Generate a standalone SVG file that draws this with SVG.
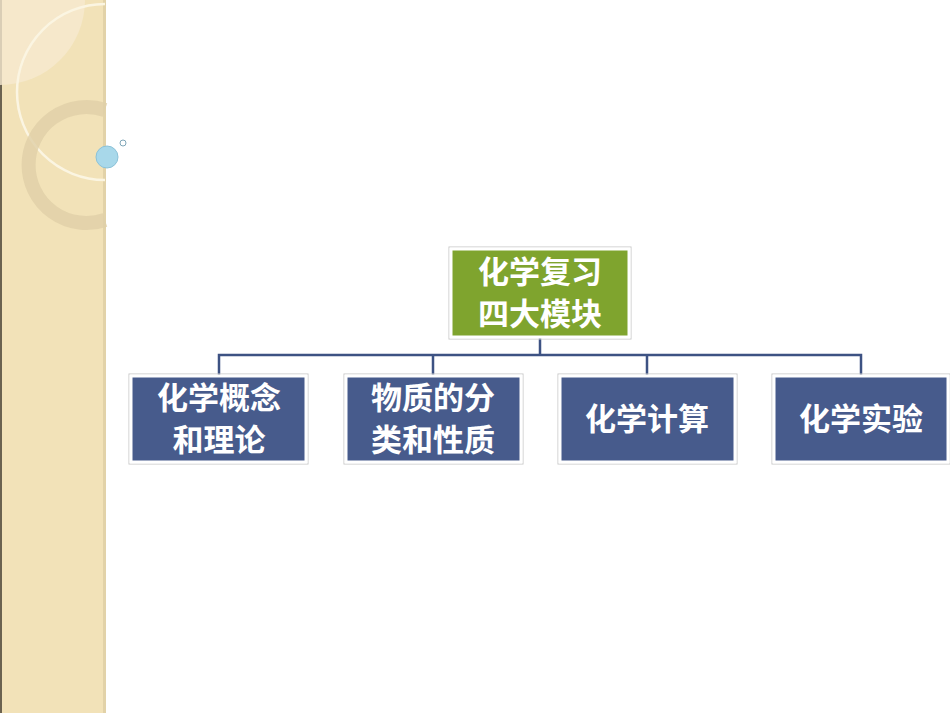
<svg xmlns="http://www.w3.org/2000/svg" width="950" height="713" viewBox="0 0 950 713">
<style>
.box{stroke:#fff;stroke-width:3}
.frame{fill:none;stroke:#c8c8c8;stroke-width:1}
.t{font-family:"Noto Sans CJK SC",sans-serif;font-weight:bold;font-size:31px;fill:#fff;text-anchor:middle}
.c{stroke:#3d5283;stroke-width:2.5;fill:none}
</style>
<rect width="950" height="713" fill="#fff"/>
<g id="sidebar">
<rect x="0" y="0" width="105" height="713" fill="#f2e2b8"/>
<rect x="0" y="0" width="2" height="713" fill="#6b6250"/>
<rect x="103" y="0" width="3" height="713" fill="#e2d2a8"/>
<path d="M0 85 A85 85 0 0 0 85 0 L0 0Z" fill="#f6ead0" opacity="0.8"/>
<path d="M105 4 A88 88 0 0 0 105 180" fill="none" stroke="#fbf5e2" stroke-width="2.5"/>
<path d="M105 110 A58 58 0 1 0 105 220" fill="none" stroke="#e0d0a8" stroke-width="14" opacity="0.8"/>
<circle cx="107" cy="157" r="11" fill="#a8d8ea" stroke="#8cc2d8"/>
<circle cx="123" cy="143" r="3" fill="none" stroke="#7fa6b8"/>
</g>
<g id="connectors">
<path class="c" d="M540 338 V355 M219 375 V355 H861 V375 M433 355 V375 M647 355 V375"/>
</g>
<g id="root"><rect class="frame" x="449" y="247" width="182" height="92"/><rect class="box" x="451" y="249" width="178" height="88" fill="#7fa42e"/>
<text class="t" x="540" y="283">化学复习</text><text class="t" x="540" y="325">四大模块</text></g>
<g id="n1"><rect class="frame" x="129" y="374" width="179" height="90"/><rect class="box" x="131" y="376" width="175" height="86" fill="#475b8c"/>
<text class="t" x="219" y="409">化学概念</text><text class="t" x="219" y="451">和理论</text></g>
<g id="n2"><rect class="frame" x="344" y="374" width="179" height="90"/><rect class="box" x="346" y="376" width="175" height="86" fill="#475b8c"/>
<text class="t" x="433" y="409">物质的分</text><text class="t" x="433" y="451">类和性质</text></g>
<g id="n3"><rect class="frame" x="558" y="374" width="179" height="90"/><rect class="box" x="560" y="376" width="175" height="86" fill="#475b8c"/>
<text class="t" x="647" y="430">化学计算</text></g>
<g id="n4"><rect class="frame" x="772" y="374" width="178" height="90"/><rect class="box" x="774" y="376" width="174" height="86" fill="#475b8c"/>
<text class="t" x="861" y="430">化学实验</text></g>
</svg>
